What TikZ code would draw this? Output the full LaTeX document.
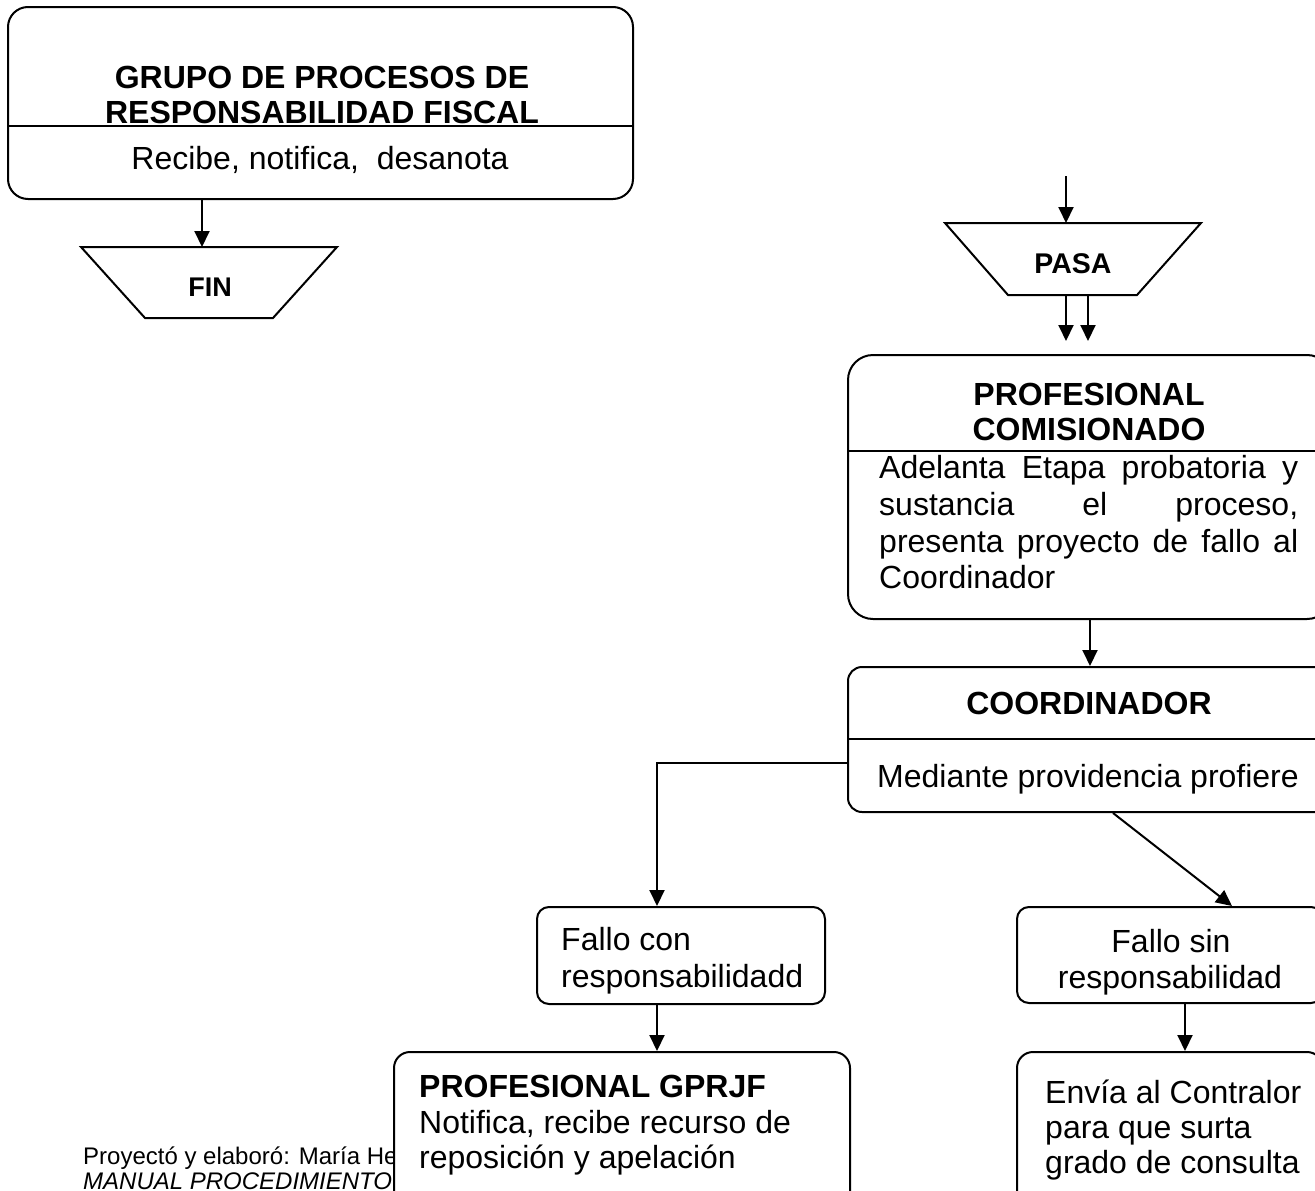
\documentclass[tikz,border=0pt]{standalone}
\usepackage{fontspec}
\setmainfont{Liberation Sans}
\usetikzlibrary{arrows.meta}
\begin{document}
\begin{tikzpicture}[x=1pt,y=-1pt,
  box/.style={draw, line width=2pt, fill=white, inner sep=0pt, rounded corners=#1},
  box/.default=14pt,
  sep/.style={line width=2pt},
  term/.style={draw, line width=2pt, line join=miter},
  arr/.style={line width=2pt, -{Triangle[length=16pt,width=15pt]}},
  txt/.style={inner sep=0pt, font=\fontsize{32}{37}\selectfont},
  ttl/.style={inner sep=0pt, font=\fontsize{32}{37}\selectfont\bfseries},
  small/.style={inner sep=0pt, font=\fontsize{24}{27}\selectfont},
]
\useasboundingbox (0,0) rectangle (1315,1191);
\clip (0,0) rectangle (1315,1191);

% footer credit, partly hidden behind the lower boxes
\node[small, anchor=base west] (credit) at (83,1164) {Proyectó y elaboró: María He};
\node[small, anchor=base west] (manual) at (83,1189) {\itshape MANUAL PROCEDIMIENTO};

% ---- left column: group box and end terminal
\node[box=20pt, minimum width=625pt, minimum height=192pt] (grupo) at (320.5,103) {};
\draw[sep] (grupo.west |- 0,126) -- (grupo.east |- 0,126);
\node[ttl, anchor=base] (grupoA) at (322,88) {GRUPO DE PROCESOS DE};
\node[ttl, anchor=base] (grupoB) at (322,123) {RESPONSABILIDAD FISCAL};
\node[txt, anchor=base] (grupoC) at (320,169) {Recibe, notifica,~ desanota};

\draw[term] (81,247) coordinate (finTL) -- (337,247) coordinate (finTR)
  -- (273,318) coordinate (finBR) -- (145,318) coordinate (finBL) -- cycle;
\coordinate (fintop) at (202,247);
\node[inner sep=0pt, font=\fontsize{27}{30}\selectfont\bfseries, anchor=base] (fin) at (210,296) {FIN};
\draw[arr] (grupo.south -| fintop) -- (fintop);

% ---- right column: incoming connector
\coordinate (pasain) at (1066,176);
\draw[term] (945,223) coordinate (pasaTL) -- (1201,223) coordinate (pasaTR)
  -- (1137,295) coordinate (pasaBR) -- (1008,295) coordinate (pasaBL) -- cycle;
\coordinate (pasatop) at (1066,223);
\node[inner sep=0pt, font=\fontsize{28.5}{31}\selectfont\bfseries, anchor=base] (pasa) at (1073,273) {PASA};
\draw[arr] (pasain) -- (pasatop);

% professional box
\node[box=25pt, minimum width=484pt, minimum height=264pt] (prof) at (1090,487) {};
\draw[sep] (prof.west |- 0,451) -- (prof.east |- 0,451);
\node[ttl, anchor=base] (profA) at (1089,405) {PROFESIONAL};
\node[ttl, anchor=base] (profB) at (1089,440) {COMISIONADO};
\node[txt, anchor=base west] (profC) at (879,478) {\makebox[419pt][s]{Adelanta Etapa probatoria y}};
\node[txt, anchor=base west] (profD) at (879,515) {\makebox[419pt][s]{sustancia el proceso,}};
\node[txt, anchor=base west] (profE) at (879,552) {\makebox[419pt][s]{presenta proyecto de fallo al}};
\node[txt, anchor=base west] (profF) at (879,588) {Coordinador};

\coordinate (pasaout1) at (1066,295);
\coordinate (pasaout2) at (1088,295);
\draw[arr] (pasaout1) -- ([yshift=13pt]prof.north -| pasaout1);
\draw[arr] (pasaout2) -- ([yshift=13pt]prof.north -| pasaout2);

% coordinator box
\node[box=14pt, minimum width=484pt, minimum height=145pt] (coord) at (1090,739.5) {};
\draw[sep] (coord.west |- 0,739) -- (coord.east |- 0,739);
\node[ttl, anchor=base] (coordA) at (1089,714) {COORDINADOR};
\node[txt, anchor=base] (coordB) at (1088,787) {Mediante providencia profiere};
\draw[arr] (prof.south) -- (coord.north);

% outcome boxes
\node[box=12pt, minimum width=288pt, minimum height=97pt] (fallocon) at (681,955.5) {};
\node[txt, anchor=base west] (falloconA) at (561,950) {Fallo con};
\node[txt, anchor=base west] (falloconB) at (561,987) {responsabilidadd};

\node[box=12pt, minimum width=306pt, minimum height=96pt] (fallosin) at (1170,955) {};
\node[txt, anchor=base] (fallosinA) at (1171,952) {Fallo sin};
\node[txt, anchor=base] (fallosinB) at (1170,988) {responsabilidad};

\draw[arr] (coord.west |- 0,763) -| ([xshift=-24pt]fallocon.north);
\draw[arr] ([xshift=23pt]coord.south) -- ([xshift=62pt]fallosin.north);

% final actions
\node[box=16pt, minimum width=456pt, minimum height=178pt] (gprjf) at (622,1141) {};
\node[ttl, anchor=base west] (gprjfA) at (419,1097) {PROFESIONAL GPRJF};
\node[txt, anchor=base west] (gprjfB) at (419,1133) {Notifica, recibe recurso de};
\node[txt, anchor=base west] (gprjfC) at (419,1168) {reposición y apelación};

\node[box=16pt, minimum width=306pt, minimum height=178pt] (envia) at (1170,1141) {};
\node[txt, anchor=base west] (enviaA) at (1045,1103) {Envía al Contralor};
\node[txt, anchor=base west] (enviaB) at (1045,1138) {para que surta};
\node[txt, anchor=base west] (enviaC) at (1045,1173) {grado de consulta};

\draw[arr] ([xshift=-24pt]fallocon.south) coordinate (c1) -- (gprjf.north -| c1);
\draw[arr] ([xshift=15pt]fallosin.south) coordinate (c2) -- (envia.north -| c2);
\end{tikzpicture}
\end{document}
